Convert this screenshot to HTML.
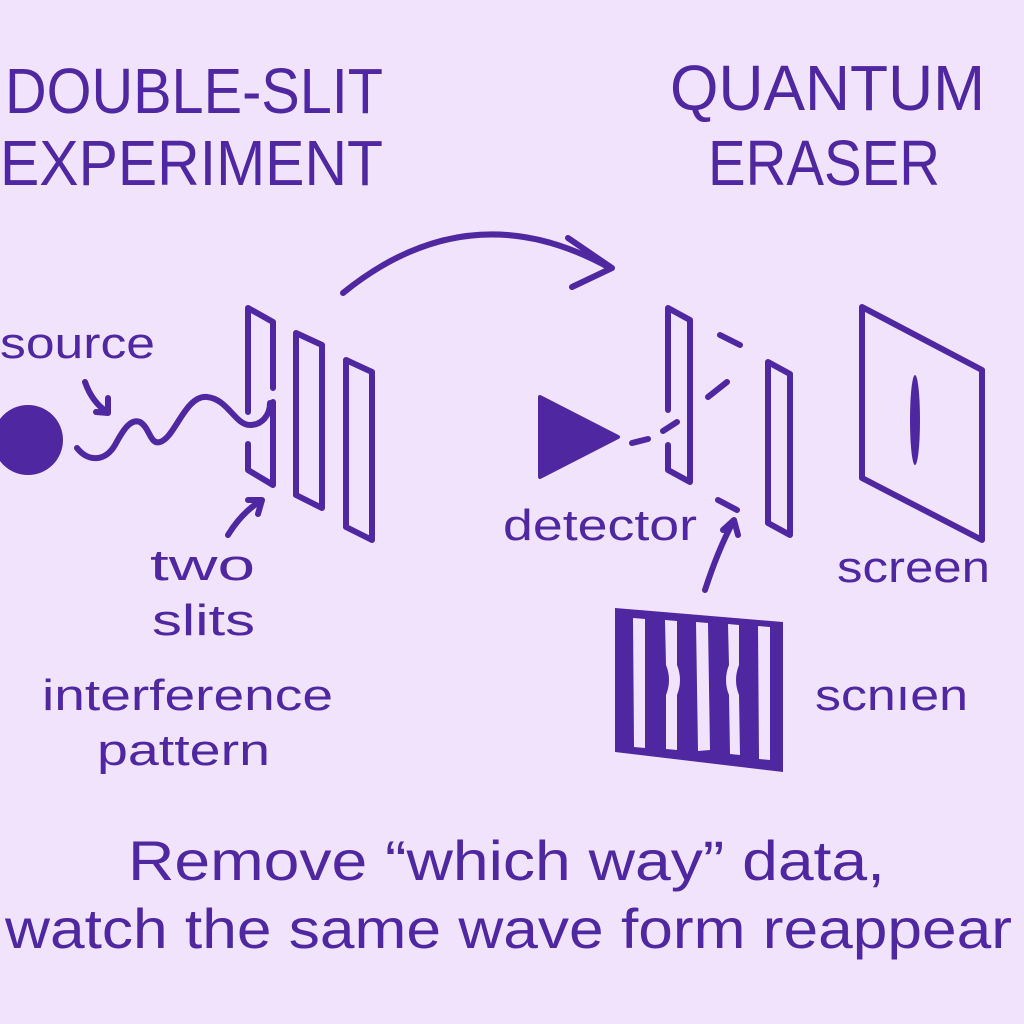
<!DOCTYPE html>
<html><head><meta charset="utf-8"><style>
html,body{margin:0;padding:0;background:#f0e3fb;}
svg{display:block}
text{font-family:"Liberation Sans",sans-serif;fill:#4f27a0;}
</style></head><body>
<svg width="1024" height="1024" viewBox="0 0 1024 1024">
<rect width="1024" height="1024" fill="#f0e3fb"/>
<text x="5" y="113" font-size="64" textLength="378" lengthAdjust="spacingAndGlyphs">DOUBLE-SLIT</text>
<text x="0" y="185" font-size="64" textLength="383" lengthAdjust="spacingAndGlyphs">EXPERIMENT</text>
<text x="670" y="110" font-size="64" textLength="315" lengthAdjust="spacingAndGlyphs">QUANTUM</text>
<text x="708" y="185" font-size="64" textLength="232" lengthAdjust="spacingAndGlyphs">ERASER</text>

<g fill="none" stroke="#4f27a0" stroke-width="6" stroke-linecap="round" stroke-linejoin="round">
<path d="M343,293 Q470,190 610,268"/>
<path d="M568,238 L612,268 L572,287"/>
<path d="M85,382 Q92,402 107,412 M96,412 L108,413 L108,398"/>
<path d="M77,448 C88,462 105,462 115,445 C122,432 130,418 140,422 C150,428 150,445 160,442 C175,438 185,395 207,397 C228,399 235,425 250,425 C262,425 270,415 270,403"/>
<path d="M248,412 L248,308 L273,322 L273,388 M273,402 L273,485 L248,470 L248,444"/>
<path d="M296,333 L322,345 L322,508 L296,495 Z"/>
<path d="M346,360 L372,372 L372,540 L346,527 Z"/>
<path d="M228,535 Q242,512 262,500 M248,500 L262,500 L258,514"/>
<path d="M632,443 L648,439 M663,431 L677,422"/>
<path d="M668,410 L668,308 L690,320 L690,482 L668,470 L668,445"/>
<path d="M720,335 L740,345 M708,397 L727,382 M718,500 L737,510"/>
<path d="M768,362 L790,374 L790,535 L768,523 Z"/>
<path d="M705,590 Q718,550 733,522 M723,530 L734,520 L738,535"/>
<path d="M862,307 L982,370 L982,540 L862,478 Z"/>
</g>
<circle cx="28" cy="440" r="35" fill="#4f27a0"/>
<path d="M540,397 L618,437 L540,477 Z" fill="#4f27a0" stroke="#4f27a0" stroke-width="4" stroke-linejoin="round"/>
<ellipse cx="915" cy="420" rx="5" ry="45" fill="#4f27a0"/>
<path d="M615,608 L783,622 L783,772 L615,752 Z" fill="#4f27a0"/>
<g fill="#f0e3fb">
<path d="M633,618 L645,619 L645,748 L634,747 Z"/>
<path d="M665,620 L677,621 L677,665 Q683,680 677,695 L677,750 L666,749 L666,695 Q672,680 666,665 Z"/>
<path d="M696,622 L708,623 L710,750 L698,751 Z"/>
<path d="M728,624 L739,625 L739,665 Q733,680 739,695 L740,755 L730,754 L729,695 Q723,680 729,665 Z"/>
<path d="M758,626 L770,627 L770,760 L759,759 Z"/>
</g>

<text x="0" y="358" font-size="44" textLength="155" lengthAdjust="spacingAndGlyphs">source</text>
<text x="150" y="580" font-size="44" textLength="105" lengthAdjust="spacingAndGlyphs">two</text>
<text x="152" y="635" font-size="44" textLength="103" lengthAdjust="spacingAndGlyphs">slits</text>
<text x="42" y="710" font-size="44" textLength="291" lengthAdjust="spacingAndGlyphs">interference</text>
<text x="97" y="765" font-size="44" textLength="173" lengthAdjust="spacingAndGlyphs">pattern</text>
<text x="503" y="540" font-size="44" textLength="194" lengthAdjust="spacingAndGlyphs">detector</text>
<text x="837" y="582" font-size="44" textLength="153" lengthAdjust="spacingAndGlyphs">screen</text>
<text x="815" y="710" font-size="44" textLength="153" lengthAdjust="spacingAndGlyphs">scnıen</text>
<text x="128" y="880" font-size="56" textLength="757" lengthAdjust="spacingAndGlyphs">Remove  “which way” data,</text>
<text x="5" y="948" font-size="56" textLength="1007" lengthAdjust="spacingAndGlyphs">watch the same wave form reappear</text>
</svg>
</body></html>
